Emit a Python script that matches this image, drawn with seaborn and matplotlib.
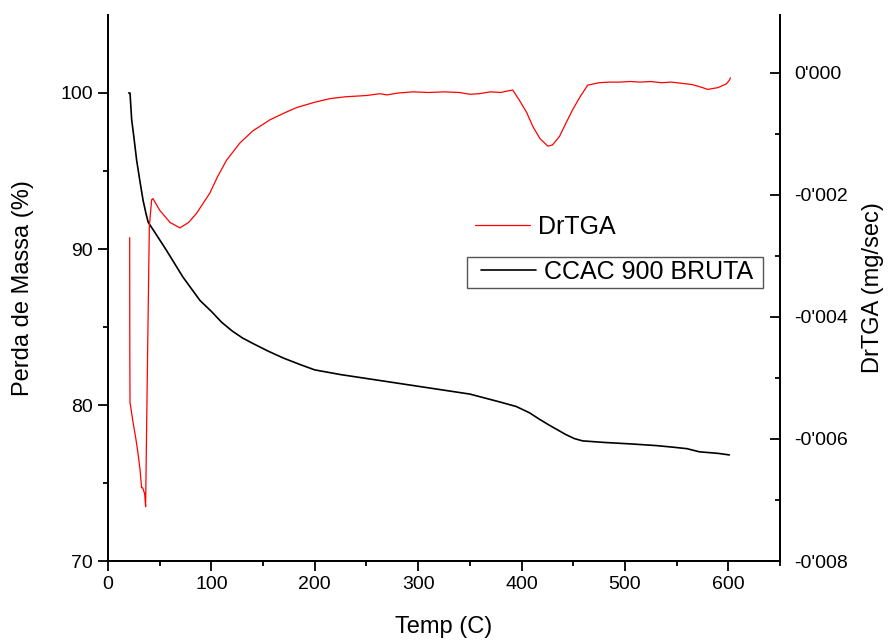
import numpy as np
import pandas as pd
import seaborn as sns
import matplotlib.pyplot as plt
from matplotlib.ticker import FixedLocator, MultipleLocator, FuncFormatter
from matplotlib.lines import Line2D
from matplotlib.patches import Rectangle

# TGA mass curve (left axis)
temp_tga = [20, 21.3, 22.9, 25, 27.7, 31, 34, 37, 39, 45, 56.7, 72.5, 89, 100, 110, 120, 130,
            140, 155, 170, 185.5, 200, 225, 250, 300, 350, 378.7, 395, 407.7, 417, 427, 435,
            443, 451, 459, 480, 507, 530, 546, 560, 572, 590, 601]
mass_tga = [100, 100, 98.3, 97.2, 95.7, 94.3, 93.1, 92.2, 91.7, 91.1, 89.9, 88.2, 86.7, 86.0,
            85.3, 84.75, 84.3, 83.95, 83.45, 83.0, 82.6, 82.25, 81.95, 81.7, 81.2, 80.7, 80.2,
            79.9, 79.5, 79.1, 78.7, 78.4, 78.1, 77.85, 77.7, 77.6, 77.5, 77.4, 77.3, 77.2, 77.0,
            76.9, 76.8]

# DrTGA derivative curve (right axis)
temp_dr = [21, 21.1, 21.3, 24, 27, 29, 31, 32.5, 33.6, 35.5, 36.4, 38, 40, 42.2, 43.5, 50, 60,
           69.6, 78, 85.7, 98.5, 106, 114.7, 127.5, 140, 156.5, 170, 182, 200, 215, 230, 250,
           263, 270, 280, 295, 310, 325, 340, 350, 359, 370, 380, 385, 391.5, 398, 405, 411,
           418, 425.5, 430, 436.7, 443, 449.5, 457, 464, 475, 485, 494.7, 505, 515, 525, 535,
           545, 555, 565, 575, 580, 590, 598, 601, 602]
rate_dr = [-0.0027, -0.0045, -0.0054, -0.0057, -0.0060, -0.00623, -0.0065, -0.0068, -0.0068,
           -0.0069, -0.00711, -0.0050, -0.00252, -0.00208, -0.00206, -0.00225, -0.00245,
           -0.00254, -0.00245, -0.0023, -0.00197, -0.0017, -0.00143, -0.00115, -0.00095,
           -0.00077, -0.00066, -0.00057, -0.00048, -0.00042, -0.00039, -0.00037, -0.00034,
           -0.00036, -0.00033, -0.00031, -0.00032, -0.00031, -0.00032, -0.00035, -0.00034,
           -0.00031, -0.00032, -0.0003, -0.00028, -0.00045, -0.00065, -0.00088, -0.00108,
           -0.0012, -0.00118, -0.00104, -0.00082, -0.0006, -0.00038, -0.0002, -0.00016,
           -0.00015, -0.00015, -0.00014, -0.00015, -0.00014, -0.00016, -0.00015, -0.00017,
           -0.00019, -0.00024, -0.00027, -0.00024, -0.00018, -0.00012, -0.00008]

tga_df = pd.DataFrame({'temp': temp_tga, 'mass': mass_tga})
dr_df = pd.DataFrame({'temp': temp_dr, 'rate': rate_dr})

sns.set_style("ticks")
plt.rcParams['font.family'] = ['Liberation Sans', 'DejaVu Sans']
plt.rcParams['text.color'] = 'black'
plt.rcParams['axes.labelcolor'] = 'black'
plt.rcParams['xtick.color'] = 'black'
plt.rcParams['ytick.color'] = 'black'
plt.rcParams['axes.edgecolor'] = 'black'

fig = plt.figure(figsize=(8.88, 6.41), dpi=100)
ax = fig.add_axes([0.1216, 0.1248, 0.7568, 0.8518])
ax2 = ax.twinx()

sns.lineplot(data=tga_df, x='temp', y='mass', ax=ax, color='black', linewidth=1.2,
             sort=False, estimator=None)
sns.lineplot(data=dr_df, x='temp', y='rate', ax=ax2, color='red', linewidth=0.9,
             sort=False, estimator=None)

ax.set_xlim(0, 650)
ax.set_ylim(70, 105)
ax2.set_ylim(-0.008, 0.00095)

ax.xaxis.set_major_locator(MultipleLocator(100))
ax.xaxis.set_minor_locator(MultipleLocator(50))
ax.yaxis.set_major_locator(FixedLocator([70, 80, 90, 100]))
ax.yaxis.set_minor_locator(FixedLocator([75, 85, 95]))
ax2.yaxis.set_major_locator(FixedLocator([-0.008, -0.006, -0.004, -0.002, 0.0]))
ax2.yaxis.set_minor_locator(FixedLocator([-0.007, -0.005, -0.003, -0.001]))
ax2.yaxis.set_major_formatter(FuncFormatter(lambda v, p: f"{v:.3f}".replace('.', "'")))

for a in (ax, ax2):
    a.spines['top'].set_visible(False)
    for s in a.spines.values():
        s.set_linewidth(1.3)
        s.set_color('black')

ax.tick_params(axis='both', which='major', direction='out', length=7, width=1.3,
               labelsize=14, pad=4, colors='black')
ax.tick_params(axis='both', which='minor', direction='out', length=3.5, width=1.3)
ax2.tick_params(axis='y', which='major', direction='in', length=7.5, width=1.3,
                labelsize=14, pad=10, colors='black')
ax2.tick_params(axis='y', which='minor', direction='in', length=3.7, width=1.3)

ax.set_xlabel('Temp (C)', fontsize=17, labelpad=16, color='black')
ax.set_ylabel('Perda de Massa (%)', fontsize=17, labelpad=19, color='black')
ax2.set_ylabel('DrTGA (mg/sec)', fontsize=17, labelpad=10, color='black')

# two separate legends, like the original
red_handle = [Line2D([0], [0], color='red', linewidth=0.9)]
leg1 = fig.legend(red_handle, ['DrTGA'], loc='center left',
                  bbox_to_anchor=(0.5349, 0.6459), frameon=False, fontsize=18,
                  handlelength=2.2, handletextpad=0.32, borderpad=0, borderaxespad=0)
black_handle = [Line2D([0], [0], color='black', linewidth=1.2)]
leg2 = fig.legend(black_handle, ['CCAC 900 BRUTA'], loc='center left',
                  bbox_to_anchor=(0.5417, 0.5757), frameon=False, fontsize=18,
                  handlelength=2.2, handletextpad=0.32, borderpad=0, borderaxespad=0)
fig.patches.append(Rectangle((0.5259, 0.5507), 0.3333, 0.0484, transform=fig.transFigure,
                             fill=False, edgecolor='#555555', linewidth=1.0))

fig.savefig('out.png', dpi=100)
